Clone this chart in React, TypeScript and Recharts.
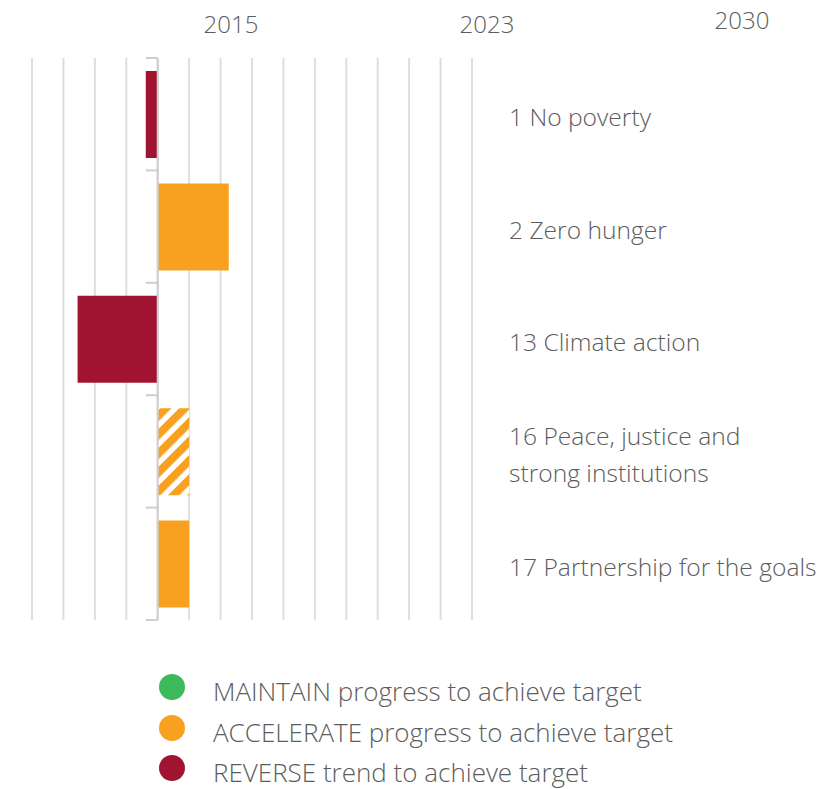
import React from 'react';
import { BarChart, Bar, XAxis, YAxis, CartesianGrid, ReferenceLine, Cell } from 'recharts';

// SDG rows, top to bottom
const categories = [
  '1 No poverty',
  '2 Zero hunger',
  '13 Climate action',
  '16 Peace, justice and\nstrong institutions',
  '17 Partnership for the goals',
];
const values = [-0.38, 2.26, -2.55, 1.0, 1.0];
const status = ['reverse', 'accelerate', 'reverse', 'accelerate-striped', 'accelerate'];

const xTicks = [-4, -3, -2, -1, 0, 1, 2, 3, 4, 5, 6, 7, 8, 9, 10];
const years = ['2015', '2023', '2030'];

const legendItems = [
  { label: 'MAINTAIN progress to achieve target', color: '#3CB95B' },
  { label: 'ACCELERATE progress to achieve target', color: '#F8A01F' },
  { label: 'REVERSE trend to achieve target', color: '#A01432' },
];

const colors: Record<string, string> = {
  reverse: '#A01432',
  accelerate: '#F8A01F',
  'accelerate-striped': 'url(#stripes)',
};

const rows = categories.map((name, i) => ({ name, value: values[i], status: status[i] }));

// little ticks on the zero line at every row boundary
const boundaryTicks = [
  ...categories.map((c) => ({ cat: c, pos: 'start' as const })),
  { cat: categories[categories.length - 1], pos: 'end' as const },
];

const FONT = '"Open Sans", sans-serif';
const TEXT = '#5c5c5c';

const RowLabel = (props: any) => {
  const { x, y, payload } = props;
  const lines = String(payload.value).split('\n');
  const lh = 37;
  const start = y + 5 - ((lines.length - 1) * lh) / 2;
  return (
    <text x={x + 29} y={start} fill={TEXT} fontSize={24.6} fontWeight={300} fontFamily={FONT} dominantBaseline="middle">
      {lines.map((l, i) => (
        <tspan key={i} x={x + 29} y={start + i * lh}>{l}</tspan>
      ))}
    </text>
  );
};

const yearPos = [231, 487, 742];
const yearTop = [7, 7, 3];

export default function App() {
  return (
    <div style={{ position: 'absolute', left: 0, top: 0, width: 833, height: 789, background: '#fff', fontFamily: FONT, fontWeight: 300 }}>
      {years.map((yr, i) => (
        <div key={yr} style={{ position: 'absolute', left: yearPos[i] - 40, width: 80, top: yearTop[i], textAlign: 'center', fontSize: 24, color: TEXT }}>
          {yr}
        </div>
      ))}
      <BarChart
        layout="vertical"
        width={833}
        height={640}
        data={rows}
        margin={{ top: 58, right: 21, bottom: 20, left: 32 }}
        barSize={87}
      >
        <defs>
          <pattern id="stripes" width="13.4" height="13.4" patternUnits="userSpaceOnUse" patternTransform="rotate(45)">
            <rect width="13.4" height="13.4" fill="#fff" />
            <rect width="8" height="13.4" fill="#F8A01F" />
          </pattern>
        </defs>
        <CartesianGrid horizontal={false} stroke="#dedede" strokeWidth={2} />
        <XAxis type="number" domain={[-4, 10]} ticks={xTicks} hide />
        <YAxis
          type="category"
          dataKey="name"
          orientation="right"
          width={340}
          axisLine={false}
          tickLine={false}
          tick={<RowLabel />}
          interval={0}
        />
        <ReferenceLine x={0} stroke="#cfcfcf" strokeWidth={2} />
        {boundaryTicks.map((b, i) => (
          <ReferenceLine
            key={i}
            segment={[{ x: -0.38, y: b.cat }, { x: 0, y: b.cat }]}
            position={b.pos}
            stroke="#cfcfcf"
            strokeWidth={2}
            ifOverflow="visible"
          />
        ))}
        <Bar dataKey="value" isAnimationActive={false}>
          {rows.map((r, i) => (
            <Cell key={i} fill={colors[r.status]} />
          ))}
        </Bar>
      </BarChart>
      <div style={{ position: 'absolute', left: 159, top: 671 }}>
        {legendItems.map((it) => (
          <div key={it.label} style={{ display: 'flex', alignItems: 'center', height: 40.5 }}>
            <span style={{ width: 26, height: 26, borderRadius: 13, background: it.color, display: 'inline-block', marginTop: -8 }} />
            <span style={{ marginLeft: 28, fontSize: 26, color: TEXT }}>{it.label}</span>
          </div>
        ))}
      </div>
    </div>
  );
}
